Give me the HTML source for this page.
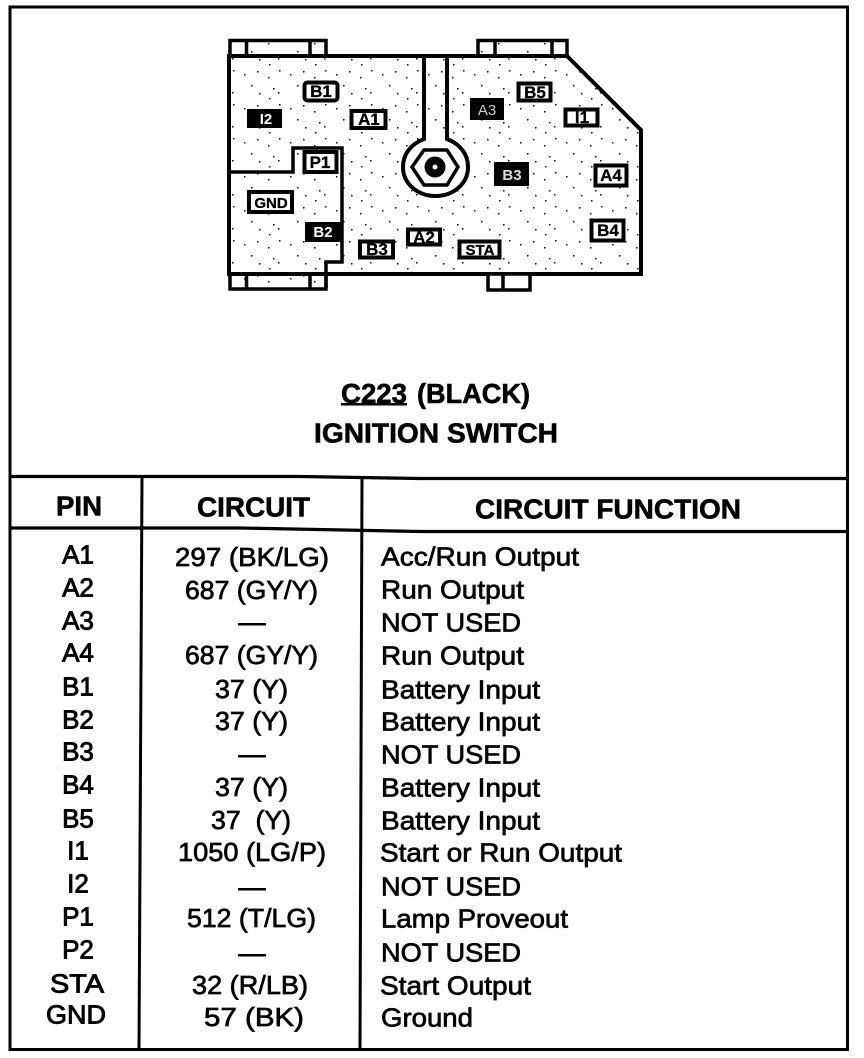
<!DOCTYPE html>
<html><head><meta charset="utf-8"><style>
html,body{margin:0;padding:0;background:#fff}
svg{display:block}
text{font-family:"Liberation Sans",sans-serif;fill:#000}
.r{font-size:26px;stroke:#000;stroke-width:.7px}
.p{font-size:26px;stroke:#000;stroke-width:.9px;text-anchor:middle}
.h{font-size:28px;font-weight:bold;stroke:#000;stroke-width:.6px}
.l{font-size:17px;font-weight:bold;text-anchor:middle;stroke:#000;stroke-width:.3px}
.w{fill:#fff;font-weight:bold;font-size:15px;text-anchor:middle}
</style></head><body>
<svg width="864" height="1058" viewBox="0 0 864 1058" xmlns="http://www.w3.org/2000/svg">
<defs>
<pattern id="d" width="46" height="34" patternUnits="userSpaceOnUse">
<g fill="#000"><rect x="3" y="2" width="1.5" height="1.5"/><rect x="14" y="6" width="1.5" height="1.5"/><rect x="27" y="3" width="1.5" height="1.5"/><rect x="38" y="9" width="1.5" height="1.5"/><rect x="21" y="17" width="1.5" height="1.5"/><rect x="43" y="20" width="1.5" height="1.5"/><rect x="2" y="24" width="1.5" height="1.5"/><rect x="29" y="25" width="1.5" height="1.5"/><rect x="39" y="30" width="1.5" height="1.5"/></g>
</pattern>
</defs>
<rect width="864" height="1058" fill="#fff"/>
<!-- frame -->
<path d="M10 7H847.5V1049.5H10Z" fill="none" stroke="#000" stroke-width="3"/>
<rect x="9" y="6" width="839" height="2" fill="#000"/>
<!-- table lines -->
<path d="M11 476.5H300L420 478.5H846" fill="none" stroke="#000" stroke-width="3.2"/>
<path d="M11 528H240L420 531.5H846" fill="none" stroke="#000" stroke-width="3.2"/>
<path d="M142 477L139 1048" fill="none" stroke="#000" stroke-width="3"/>
<path d="M362 478L360 1048" fill="none" stroke="#000" stroke-width="3"/>
<!-- housing -->
<path d="M229 56H567L641 130V274H326V262H342V148H293V172H229Z" fill="url(#d)"/>
<path d="M229 172H293V148H342V262H326V274H229Z" fill="url(#d)"/>
<!-- slot and knob -->
<path d="M447 54V139C460 144 468 154 468 167C468 184 453 196 435.500 196C418 196 403 184 403 167C403 154 411 144 424 139V54Z" fill="#fff" stroke="none"/>
<rect x="426" y="58" width="19" height="80" fill="url(#d)"/>
<path d="M447 58V139C460 144 468 154 468 167C468 184 453 196 435.500 196C418 196 403 184 403 167C403 154 411 144 424 139V58" fill="none" stroke="#000" stroke-width="4"/>
<path d="M229 56H567L641 130V274H229Z" fill="none" stroke="#000" stroke-width="4"/>
<path d="M229 172H293V148H342V262H326V288" fill="none" stroke="#000" stroke-width="3.5"/>
<!-- tabs -->
<g fill="url(#d)" stroke="#000" stroke-width="3.5">
<rect x="230" y="40.500" width="96" height="15.500"/>
<rect x="230" y="274" width="96" height="15"/>
<rect x="478" y="40.500" width="89" height="15.500"/>
<rect x="488" y="274" width="42" height="16" fill="#fff"/>
</g>
<path d="M246.500 40V56M310 40V56M246.500 274V289M310 274V289M495 40V56M552 40V56M503 274V290" stroke="#000" stroke-width="3.500" fill="none"/>
<path d="M412 167L424 150H447L458 167L447 185H424Z" fill="#fff" stroke="#000" stroke-width="3.500"/>
<circle cx="435" cy="167" r="10.500" fill="#000"/>
<circle cx="435" cy="167" r="2.500" fill="#fff"/>
<!-- boxes -->
<g fill="#fff" stroke="#000" stroke-width="4">
<rect x="304.500" y="82.500" width="33" height="18" rx="3"/>
<rect x="351.500" y="111" width="34" height="17"/>
<rect x="304.500" y="152" width="32" height="20"/>
<rect x="249" y="192" width="43" height="20"/>
<rect x="408" y="229.500" width="32" height="15"/>
<rect x="360" y="241.500" width="33" height="16"/>
<rect x="459.500" y="241.500" width="40" height="16"/>
<rect x="518.500" y="83.500" width="32" height="17"/>
<rect x="565.500" y="109.500" width="32" height="16"/>
<rect x="595.500" y="165.500" width="31" height="20"/>
<rect x="591.500" y="220.500" width="32" height="20"/>
</g>
<g fill="#000">
<rect x="247" y="109" width="35" height="19"/>
<rect x="305" y="222" width="37" height="20"/>
<rect x="470" y="98" width="34" height="22"/>
<rect x="494" y="162" width="35" height="24"/>
</g>
<text class="l" x="321" y="97">B1</text>
<text class="w" x="266" y="124">I2</text>
<text class="l" x="369" y="125">A1</text>
<text class="l" x="320" y="168">P1</text>
<text class="l" x="271" y="208" style="font-size:15px">GND</text>
<text class="w" x="323" y="237">B2</text>
<text class="l" x="377" y="255">B3</text>
<text class="l" x="424" y="243">A2</text>
<text class="l" x="480" y="255" style="font-size:15px">STA</text>
<text class="w" x="487" y="115" style="fill:#ccc;font-weight:normal">A3</text>
<text class="l" x="535" y="98">B5</text>
<text class="l" x="582" y="123">I1</text>
<text class="w" x="512" y="180" style="fill:#ddd">B3</text>
<text class="l" x="611" y="181">A4</text>
<text class="l" x="608" y="236">B4</text>
<!-- title -->
<text class="h" x="341" y="403" textLength="66" lengthAdjust="spacingAndGlyphs">C223</text>
<rect x="341" y="403" width="66" height="2.500" fill="#000"/>
<text class="h" x="417" y="403" textLength="113" lengthAdjust="spacingAndGlyphs">(BLACK)</text>
<text class="h" x="314" y="442.500" textLength="244" lengthAdjust="spacingAndGlyphs">IGNITION SWITCH</text>
<!-- headers -->
<text class="h" x="56" y="515.500" textLength="46" lengthAdjust="spacingAndGlyphs">PIN</text>
<text class="h" x="197" y="516.500" textLength="113" lengthAdjust="spacingAndGlyphs">CIRCUIT</text>
<text class="h" x="475" y="518.500" textLength="266" lengthAdjust="spacingAndGlyphs">CIRCUIT FUNCTION</text>
<!-- pin col -->
<g transform="translate(0,-0.5)">
<text class="p" x="78" y="564">A1</text>
<text class="p" x="78" y="597">A2</text>
<text class="p" x="78" y="630">A3</text>
<text class="p" x="78" y="662">A4</text>
<text class="p" x="78" y="696">B1</text>
<text class="p" x="78" y="729">B2</text>
<text class="p" x="78" y="761">B3</text>
<text class="p" x="78" y="794">B4</text>
<text class="p" x="78" y="828">B5</text>
<text class="p" x="78" y="860">I1</text>
<text class="p" x="78" y="893">I2</text>
<text class="p" x="78" y="926">P1</text>
<text class="p" x="78" y="959">P2</text>
<text class="p" x="77" y="993" textLength="54" lengthAdjust="spacingAndGlyphs">STA</text>
<text class="p" x="76" y="1024" textLength="60" lengthAdjust="spacingAndGlyphs">GND</text>
</g>
<!-- circuit col -->
<text class="r" x="175" y="566" textLength="154" lengthAdjust="spacingAndGlyphs">297 (BK/LG)</text>
<text class="r" x="185" y="599" textLength="133" lengthAdjust="spacingAndGlyphs">687 (GY/Y)</text>
<rect x="238" y="623" width="28" height="2.500" fill="#000"/>
<text class="r" x="185" y="664" textLength="133" lengthAdjust="spacingAndGlyphs">687 (GY/Y)</text>
<text class="r" x="215" y="698" textLength="73" lengthAdjust="spacingAndGlyphs">37 (Y)</text>
<text class="r" x="215" y="730" textLength="73" lengthAdjust="spacingAndGlyphs">37 (Y)</text>
<rect x="238" y="755" width="28" height="2.500" fill="#000"/>
<text class="r" x="215" y="796" textLength="73" lengthAdjust="spacingAndGlyphs">37 (Y)</text>
<text class="r" x="211" y="829" textLength="80" lengthAdjust="spacingAndGlyphs" xml:space="preserve">37  (Y)</text>
<text class="r" x="178" y="861" textLength="148" lengthAdjust="spacingAndGlyphs">1050 (LG/P)</text>
<rect x="238" y="888" width="28" height="2.500" fill="#000"/>
<text class="r" x="187" y="927" textLength="129" lengthAdjust="spacingAndGlyphs">512 (T/LG)</text>
<rect x="238" y="954" width="28" height="2.500" fill="#000"/>
<text class="r" x="192" y="994" textLength="116" lengthAdjust="spacingAndGlyphs">32 (R/LB)</text>
<text class="r" x="204" y="1026" textLength="100" lengthAdjust="spacingAndGlyphs">57 (BK)</text>
<!-- function col -->
<g transform="translate(0,-0.5)">
<text class="r" x="381" y="566" textLength="198" lengthAdjust="spacingAndGlyphs">Acc/Run Output</text>
<text class="r" x="381" y="599" textLength="143" lengthAdjust="spacingAndGlyphs">Run Output</text>
<text class="r" x="381" y="632" textLength="140" lengthAdjust="spacingAndGlyphs">NOT USED</text>
<text class="r" x="381" y="665" textLength="143" lengthAdjust="spacingAndGlyphs">Run Output</text>
<text class="r" x="381" y="699" textLength="159" lengthAdjust="spacingAndGlyphs">Battery Input</text>
<text class="r" x="381" y="731" textLength="159" lengthAdjust="spacingAndGlyphs">Battery Input</text>
<text class="r" x="381" y="764" textLength="140" lengthAdjust="spacingAndGlyphs">NOT USED</text>
<text class="r" x="381" y="797" textLength="159" lengthAdjust="spacingAndGlyphs">Battery Input</text>
<text class="r" x="381" y="830" textLength="159" lengthAdjust="spacingAndGlyphs">Battery Input</text>
<text class="r" x="380" y="862" textLength="242" lengthAdjust="spacingAndGlyphs">Start or Run Output</text>
<text class="r" x="381" y="896" textLength="140" lengthAdjust="spacingAndGlyphs">NOT USED</text>
<text class="r" x="381" y="928" textLength="187" lengthAdjust="spacingAndGlyphs">Lamp Proveout</text>
<text class="r" x="381" y="962" textLength="140" lengthAdjust="spacingAndGlyphs">NOT USED</text>
<text class="r" x="380" y="995" textLength="151" lengthAdjust="spacingAndGlyphs">Start Output</text>
<text class="r" x="381" y="1027" textLength="92" lengthAdjust="spacingAndGlyphs">Ground</text>
</g>
</svg>
</body></html>
